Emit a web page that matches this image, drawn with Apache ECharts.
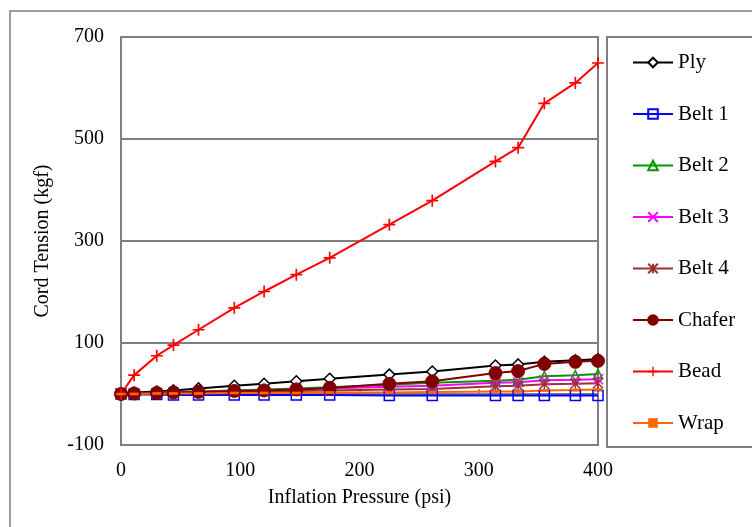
<!DOCTYPE html>
<html lang="en">
<head>
  <meta charset="UTF-8">
  <title>Cord Tension</title>
  <script src="https://cdn.jsdelivr.net/npm/echarts@6/dist/echarts.min.js"></script>
  <style>
    html, body { margin: 0; padding: 0; background: #fff; }
    #myChart { width: 752px; height: 527px; }
  </style>
</head>
<body>
  <div id="myChart"></div>
<script>
// inflation pressure (psi)
let pressure = [0, 11, 30, 44, 65, 95, 120, 147, 175, 225, 261, 314, 333, 355, 381, 400];
// cord tension (kgf)
let ply    = [0, 3, 5, 7, 11, 16, 20, 25, 30, 38, 44, 56, 58, 63, 66, 68];
let belt1  = [0, -1, -1, -2, -2, -2, -2, -2, -2, -3, -3, -3, -3, -3, -3, -3];
let belt2  = [0, 1, 3, 4, 5, 7, 9, 11, 13, 18, 22, 26, 28, 35, 37, 39];
let belt3  = [0, 1, 2, 3, 4, 6, 7, 9, 11, 14, 16, 22, 23, 27, 28, 29];
let belt4  = [0, 1, 1, 2, 3, 4, 5, 6, 7, 9, 10, 15, 16, 19, 20, 21];
let chafer = [0, 1, 2, 3, 4, 6, 7, 9, 12, 20, 25, 41, 45, 59, 63, 65];
let bead   = [0, 37, 75, 96, 126, 169, 201, 234, 267, 332, 379, 456, 483, 570, 610, 649];
let wrap   = [0, 0, 1, 1, 1, 2, 2, 2, 3, 3, 4, 5, 5, 7, 8, 9];

let yTicks = [-100, 100, 300, 500, 700];
let xTicks = [0, 100, 200, 300, 400];

const FONT = 'Liberation Serif';

function pairs(ys) {
  return pressure.map((x, i) => [x, ys[i]]);
}

// marker shapes (each path needs a real box so scaling works)
const PLUS = 'path://M4.3,0L5.7,0L5.7,4.3L10,4.3L10,5.7L5.7,5.7L5.7,10L4.3,10L4.3,5.7L0,5.7L0,4.3L4.3,4.3Z';
const CROSS = 'path://M0,0L10,10M10,0L0,10';
const STAR = 'path://M0,0L10,10M10,0L0,10M5,0L5,10';
const DASH = 'path://M0,0L10,0L10,3L0,3Z';

function line(name, ys, color, symbol, size, fill, bw) {
  return {
    name: name,
    type: 'line',
    data: pairs(ys),
    symbol: symbol,
    symbolSize: size,
    symbolKeepAspect: true,
    showAllSymbol: true,
    animation: false,
    lineStyle: { color: color, width: 2 },
    itemStyle: { color: fill, borderColor: color, borderWidth: bw }
  };
}

let myChart = echarts.init(document.getElementById('myChart'), null, { renderer: 'canvas' });
let option = {
  backgroundColor: '#fff',
  animation: false,
  textStyle: { fontFamily: FONT, color: '#000' },
  graphic: [
    { type: 'rect', shape: { x: 10, y: 11, width: 800, height: 600 },
      style: { fill: 'none', stroke: '#7f7f7f', lineWidth: 1.5 }, z: -10 },
    { type: 'rect', shape: { x: 607, y: 37, width: 200, height: 410 },
      style: { fill: 'none', stroke: '#7f7f7f', lineWidth: 2 }, z: -10 }
  ],
  grid: {
    left: 121, top: 37, right: 154, bottom: 82,
    show: true, borderColor: '#7f7f7f', borderWidth: 2
  },
  legend: {
    orient: 'vertical',
    left: 627,
    top: 47,
    itemWidth: 40,
    itemHeight: 12,
    itemGap: 30.5,
    textStyle: { fontFamily: FONT, fontSize: 21, color: '#000', lineHeight: 20 },
    data: ['Ply', 'Belt 1', 'Belt 2', 'Belt 3', 'Belt 4', 'Chafer', 'Bead', 'Wrap']
  },
  xAxis: {
    type: 'value',
    min: xTicks[0],
    max: xTicks[xTicks.length - 1],
    interval: 100,
    name: 'Inflation Pressure (psi)',
    nameLocation: 'middle',
    nameGap: 43,
    nameTextStyle: { fontFamily: FONT, fontSize: 20, color: '#000' },
    axisLine: { lineStyle: { color: '#7f7f7f', width: 2 } },
    axisTick: { inside: true, length: 5, lineStyle: { color: '#7f7f7f', width: 1.5 } },
    axisLabel: { fontFamily: FONT, fontSize: 20, color: '#000', margin: 16 },
    splitLine: { show: false }
  },
  yAxis: {
    type: 'value',
    min: yTicks[0],
    max: yTicks[yTicks.length - 1],
    interval: 200,
    name: 'Cord Tension (kgf)',
    nameLocation: 'middle',
    nameGap: 68,
    nameTextStyle: { fontFamily: FONT, fontSize: 20, color: '#000' },
    axisLine: { show: true, lineStyle: { color: '#7f7f7f', width: 2 } },
    axisTick: { show: false },
    axisLabel: { fontFamily: FONT, fontSize: 20, color: '#000', margin: 17 },
    splitLine: { show: true, lineStyle: { color: '#7f7f7f', width: 2 } }
  },
  series: [
    line('Ply', ply, '#000000', 'diamond', 11, '#ffffff', 1.5),
    line('Belt 1', belt1, '#0000ff', 'rect', 10, 'rgba(255,255,255,0)', 1.5),
    line('Belt 2', belt2, '#009900', 'triangle', 9, 'rgba(255,255,255,0)', 1.5),
    line('Belt 3', belt3, '#ff00ff', CROSS, 10, 'rgba(255,255,255,0)', 1.5),
    line('Belt 4', belt4, '#993333', STAR, 10, 'rgba(255,255,255,0)', 1.5),
    line('Chafer', chafer, '#800000', 'circle', 13, '#800000', 1),
    line('Bead', bead, '#ff0000', PLUS, 12, '#ff0000', 0),
    line('Wrap', wrap, '#ff6600', DASH, 9, '#ff6600', 0)
  ]
};
myChart.setOption(option);
</script>
</body>
</html>
